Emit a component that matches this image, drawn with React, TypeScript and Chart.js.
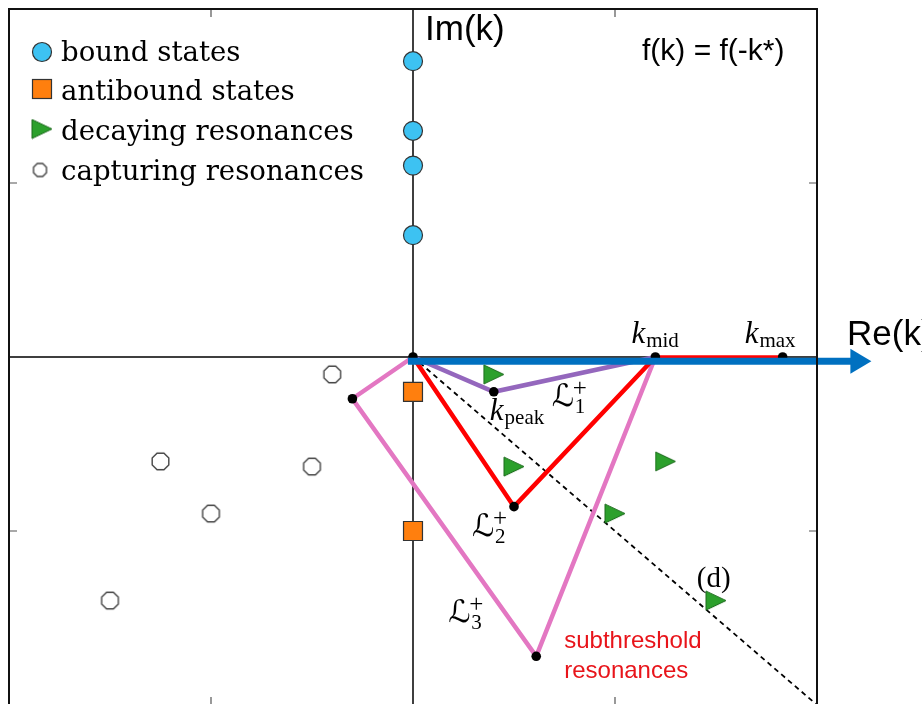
import React, { useEffect, useRef } from "react";
import { Chart, registerables } from "chart.js";

Chart.register(...registerables);

// Poles of f(k) in the complex k plane (Re k, Im k)
const boundStatesIm = [1.7, 1.3, 1.1, 0.7];
const antiboundStatesIm = [-0.2, -1.0];
const decayingRe = [0.4, 0.5, 1.25, 1.0, 1.5];
const decayingIm = [-0.1, -0.63, -0.6, -0.9, -1.4];
const capturingRe = [-0.4, -0.5, -1.25, -1.0, -1.5];
const capturingIm = [-0.1, -0.63, -0.6, -0.9, -1.4];

// Integration contours
const kPeak = { x: 0.4, y: -0.2 };
const kMid = 1.2;
const kMax = 1.83;
const contour2Vertex = { x: 0.5, y: -0.86 };
const contour3Vertices = [
  { x: -0.3, y: -0.24 },
  { x: 0.61, y: -1.72 },
];
const rayEnd = { x: 2, y: -2 };
const realAxisStart = -0.025;
const realAxisEnd = 2.2;
const realAxisOffset = -0.025;

const axisTicks = [-1, 1];

const seriesLabels = [
  "bound states",
  "antibound states",
  "decaying resonances",
  "capturing resonances",
];

const CYAN = "#3dc2f2";
const ORANGE = "#ff7f0e";
const GREEN = "#2ca02c";
const BLUE = "#0070c0";
const PURPLE = "#9467bd";
const RED = "#ff0000";
const PINK = "#e377c2";

function octagonImage(d: number) {
  const s = Math.ceil(d + 3);
  const c = document.createElement("canvas");
  c.width = s;
  c.height = s;
  const g = c.getContext("2d")!;
  const r = d / 2;
  g.beginPath();
  for (let i = 0; i < 8; i++) {
    const a = Math.PI / 8 + (i * Math.PI) / 4;
    const px = s / 2 + r * Math.cos(a);
    const py = s / 2 + r * Math.sin(a);
    if (i === 0) g.moveTo(px, py);
    else g.lineTo(px, py);
  }
  g.closePath();
  g.fillStyle = "#ffffff";
  g.fill();
  g.lineWidth = 1.4;
  g.strokeStyle = "#444444";
  g.stroke();
  return c;
}

function triangleImage(w: number, h: number) {
  const c = document.createElement("canvas");
  c.width = w + 2;
  c.height = h + 2;
  const g = c.getContext("2d")!;
  g.beginPath();
  g.moveTo(1, 1);
  g.lineTo(w + 1, h / 2 + 1);
  g.lineTo(1, h + 1);
  g.closePath();
  g.fillStyle = GREEN;
  g.fill();
  g.lineWidth = 1;
  g.strokeStyle = "#1c6a1c";
  g.stroke();
  return c;
}

export default function App() {
  const canvasRef = useRef<HTMLCanvasElement | null>(null);

  useEffect(() => {
    const canvas = canvasRef.current;
    if (!canvas) return;

    const octBig = octagonImage(18);
    const octSmall = octagonImage(14);
    const tri = triangleImage(20, 19);

    const drawMathK = (
      ctx: CanvasRenderingContext2D,
      x: number,
      y: number,
      sub: string
    ) => {
      ctx.font = "italic 31px 'Liberation Serif'";
      ctx.fillText("k", x, y);
      const w = ctx.measureText("k").width;
      ctx.font = "21px 'Liberation Serif'";
      ctx.fillText(sub, x + w + 1, y + 4);
    };

    // calligraphic L with "+" superscript and index subscript
    const drawCalL = (
      ctx: CanvasRenderingContext2D,
      x: number,
      y: number,
      sub: string
    ) => {
      ctx.font = "31px 'DejaVu Sans'";
      ctx.fillText("\u2112", x, y);
      ctx.font = "25px 'Liberation Serif'";
      ctx.fillText("+", x + 21, y - 10);
      ctx.font = "21px 'Liberation Serif'";
      ctx.fillText(sub, x + 23, y + 7);
    };

    const overlay = {
      id: "kplane",
      beforeDatasetsDraw(chart: any) {
        const { ctx, chartArea: a, scales } = chart;
        const xs = scales.x;
        const ys = scales.y;
        ctx.save();
        // coordinate axes
        ctx.strokeStyle = "#000";
        ctx.lineWidth = 1.5;
        ctx.beginPath();
        const x0 = xs.getPixelForValue(0);
        const y0 = ys.getPixelForValue(0);
        ctx.moveTo(x0, a.top);
        ctx.lineTo(x0, a.bottom);
        ctx.moveTo(a.left, y0);
        ctx.lineTo(a.right, y0);
        ctx.stroke();
        // inward tick marks
        ctx.strokeStyle = "#555";
        ctx.lineWidth = 1.2;
        ctx.beginPath();
        for (const t of axisTicks) {
          const px = xs.getPixelForValue(t);
          ctx.moveTo(px, a.top);
          ctx.lineTo(px, a.top + 8);
          ctx.moveTo(px, a.bottom);
          ctx.lineTo(px, a.bottom - 8);
          const py = ys.getPixelForValue(t);
          ctx.moveTo(a.left, py);
          ctx.lineTo(a.left + 8, py);
          ctx.moveTo(a.right, py);
          ctx.lineTo(a.right - 8, py);
        }
        ctx.stroke();
        ctx.restore();
      },
      afterDatasetsDraw(chart: any) {
        const { ctx, chartArea: a, scales } = chart;
        const xs = scales.x;
        const ys = scales.y;
        const P = (x: number, y: number) => ({
          x: xs.getPixelForValue(x),
          y: ys.getPixelForValue(y),
        });
        ctx.save();

        // arrowhead at the end of the real-axis contour
        const tip = P(realAxisEnd, realAxisOffset);
        ctx.fillStyle = BLUE;
        ctx.beginPath();
        ctx.moveTo(tip.x + 14, tip.y);
        ctx.lineTo(tip.x - 7, tip.y - 12.5);
        ctx.lineTo(tip.x - 7, tip.y + 12.5);
        ctx.closePath();
        ctx.fill();

        // frame
        ctx.strokeStyle = "#111";
        ctx.lineWidth = 2;
        ctx.strokeRect(a.left, a.top, a.right - a.left, a.bottom - a.top);

        ctx.fillStyle = "#000";
        ctx.textBaseline = "alphabetic";
        ctx.textAlign = "left";

        // axis names
        const origin = P(0, 0);
        ctx.font = "35px 'Liberation Sans'";
        ctx.fillText("Im(k)", origin.x + 12, a.top + 31);
        ctx.fillText("Re(k)", a.right + 30, origin.y - 12);
        ctx.font = "30px 'Liberation Sans'";
        ctx.fillText("f(k) = f(-k*)", a.right - 175, a.top + 51);

        // contour point labels
        const pm = P(kMid, 0);
        drawMathK(ctx, pm.x - 24, pm.y - 14, "mid");
        const px = P(kMax, 0);
        drawMathK(ctx, px.x - 38, px.y - 14, "max");
        const pp = P(kPeak.x, kPeak.y);
        drawMathK(ctx, pp.x - 4, pp.y + 28, "peak");

        drawCalL(ctx, pp.x + 58, pp.y + 14, "1");
        const p2 = P(contour2Vertex.x, contour2Vertex.y);
        drawCalL(ctx, p2.x - 42, p2.y + 29, "2");
        const p3 = P(contour3Vertices[1].x, contour3Vertices[1].y);
        drawCalL(ctx, p3.x - 88, p3.y - 34, "3");

        const pd = P(rayEnd.x * 0.7, rayEnd.y * 0.7);
        ctx.font = "29px 'Liberation Serif'";
        ctx.fillText("(d)", pd.x + 1, pd.y - 14);

        ctx.fillStyle = "#e8141a";
        ctx.font = "24px 'Liberation Sans'";
        ctx.fillText("subthreshold", p3.x + 28, p3.y - 8);
        ctx.fillText("resonances", p3.x + 28, p3.y + 22);

        // legend
        const lx = a.left + 33;
        const rows = [a.top + 43, a.top + 80, a.top + 120, a.top + 161];
        const baselines = [a.top + 52, a.top + 91, a.top + 131, a.top + 171];
        rows.forEach((cy, i) => {
          ctx.save();
          if (i === 0) {
            ctx.beginPath();
            ctx.arc(lx, cy, 9.5, 0, Math.PI * 2);
            ctx.fillStyle = CYAN;
            ctx.fill();
            ctx.lineWidth = 1.2;
            ctx.strokeStyle = "#333";
            ctx.stroke();
          } else if (i === 1) {
            ctx.fillStyle = ORANGE;
            ctx.fillRect(lx - 9.5, cy - 9.5, 19, 19);
            ctx.lineWidth = 1.2;
            ctx.strokeStyle = "#333";
            ctx.strokeRect(lx - 9.5, cy - 9.5, 19, 19);
          } else if (i === 2) {
            ctx.drawImage(tri, lx - tri.width / 2, cy - tri.height / 2);
          } else {
            ctx.drawImage(octSmall, lx - 2 - octSmall.width / 2, cy - octSmall.height / 2);
          }
          ctx.restore();
          ctx.fillStyle = "#000";
          ctx.font = "27.6px 'DejaVu Serif'";
          ctx.fillText(chart.data.datasets[i].label, a.left + 52, baselines[i]);
        });
        ctx.restore();
      },
    };

    const chart = new Chart(canvas, {
      type: "scatter",
      data: {
        datasets: [
          {
            label: seriesLabels[0],
            data: boundStatesIm.map((y) => ({ x: 0, y })),
            pointStyle: "circle",
            pointRadius: 9.5,
            backgroundColor: CYAN,
            borderColor: "#333",
            borderWidth: 1.2,
          },
          {
            label: seriesLabels[1],
            data: antiboundStatesIm.map((y) => ({ x: 0, y })),
            pointStyle: "rect",
            pointRadius: 13.4,
            backgroundColor: ORANGE,
            borderColor: "#333",
            borderWidth: 1.2,
          },
          {
            label: seriesLabels[2],
            data: decayingRe.map((x, i) => ({ x, y: decayingIm[i] })),
            pointStyle: tri,
          },
          {
            label: seriesLabels[3],
            data: capturingRe.map((x, i) => ({ x, y: capturingIm[i] })),
            pointStyle: octBig,
          },
          {
            label: "real axis",
            data: [
              { x: realAxisStart, y: realAxisOffset },
              { x: realAxisEnd, y: realAxisOffset },
            ],
            showLine: true,
            borderColor: BLUE,
            borderWidth: 7,
            pointRadius: 0,
            clip: false,
          },
          {
            label: "contour points",
            data: [
              { x: 0, y: 0 },
              kPeak,
              contour2Vertex,
              contour3Vertices[0],
              contour3Vertices[1],
              { x: kMid, y: 0 },
              { x: kMax, y: 0 },
            ],
            pointStyle: "circle",
            pointRadius: 4.8,
            backgroundColor: "#000",
            borderColor: "#000",
            borderWidth: 0,
          },
          {
            label: "kmid-kmax",
            data: [
              { x: kMid, y: 0 },
              { x: kMax, y: 0 },
            ],
            showLine: true,
            borderColor: RED,
            borderWidth: 3.5,
            pointRadius: 0,
          },
          {
            label: "L1",
            data: [{ x: 0, y: 0 }, kPeak, { x: kMid, y: 0 }],
            showLine: true,
            borderColor: PURPLE,
            borderWidth: 4.5,
            pointRadius: 0,
          },
          {
            label: "L2",
            data: [{ x: 0, y: 0 }, contour2Vertex, { x: kMid, y: 0 }],
            showLine: true,
            borderColor: RED,
            borderWidth: 4.5,
            pointRadius: 0,
          },
          {
            label: "L3",
            data: [
              { x: 0, y: 0 },
              contour3Vertices[0],
              contour3Vertices[1],
              { x: kMid, y: 0 },
            ],
            showLine: true,
            borderColor: PINK,
            borderWidth: 4.5,
            pointRadius: 0,
          },
          {
            label: "ray",
            data: [{ x: 0, y: 0 }, rayEnd],
            showLine: true,
            borderColor: "#000",
            borderWidth: 1.8,
            borderDash: [5, 4],
            pointRadius: 0,
          },
        ],
      },
      options: {
        animation: false,
        responsive: false,
        maintainAspectRatio: false,
        events: [],
        layout: {
          autoPadding: false,
          padding: { left: 9, top: 9, right: 105, bottom: 7 },
        },
        scales: {
          x: { type: "linear", min: -2, max: 2, display: false },
          y: { type: "linear", min: -2, max: 2, display: false },
        },
        plugins: {
          legend: { display: false },
          tooltip: { enabled: false },
        },
      },
      plugins: [overlay],
    } as any);

    return () => chart.destroy();
  }, []);

  return (
    <div
      style={{
        position: "fixed",
        left: 0,
        top: 0,
        width: 922,
        height: 704,
        overflow: "hidden",
        background: "#fff",
      }}
    >
      <canvas
        ref={canvasRef}
        width={922}
        height={712}
        style={{ display: "block", width: 922, height: 712 }}
      />
    </div>
  );
}
